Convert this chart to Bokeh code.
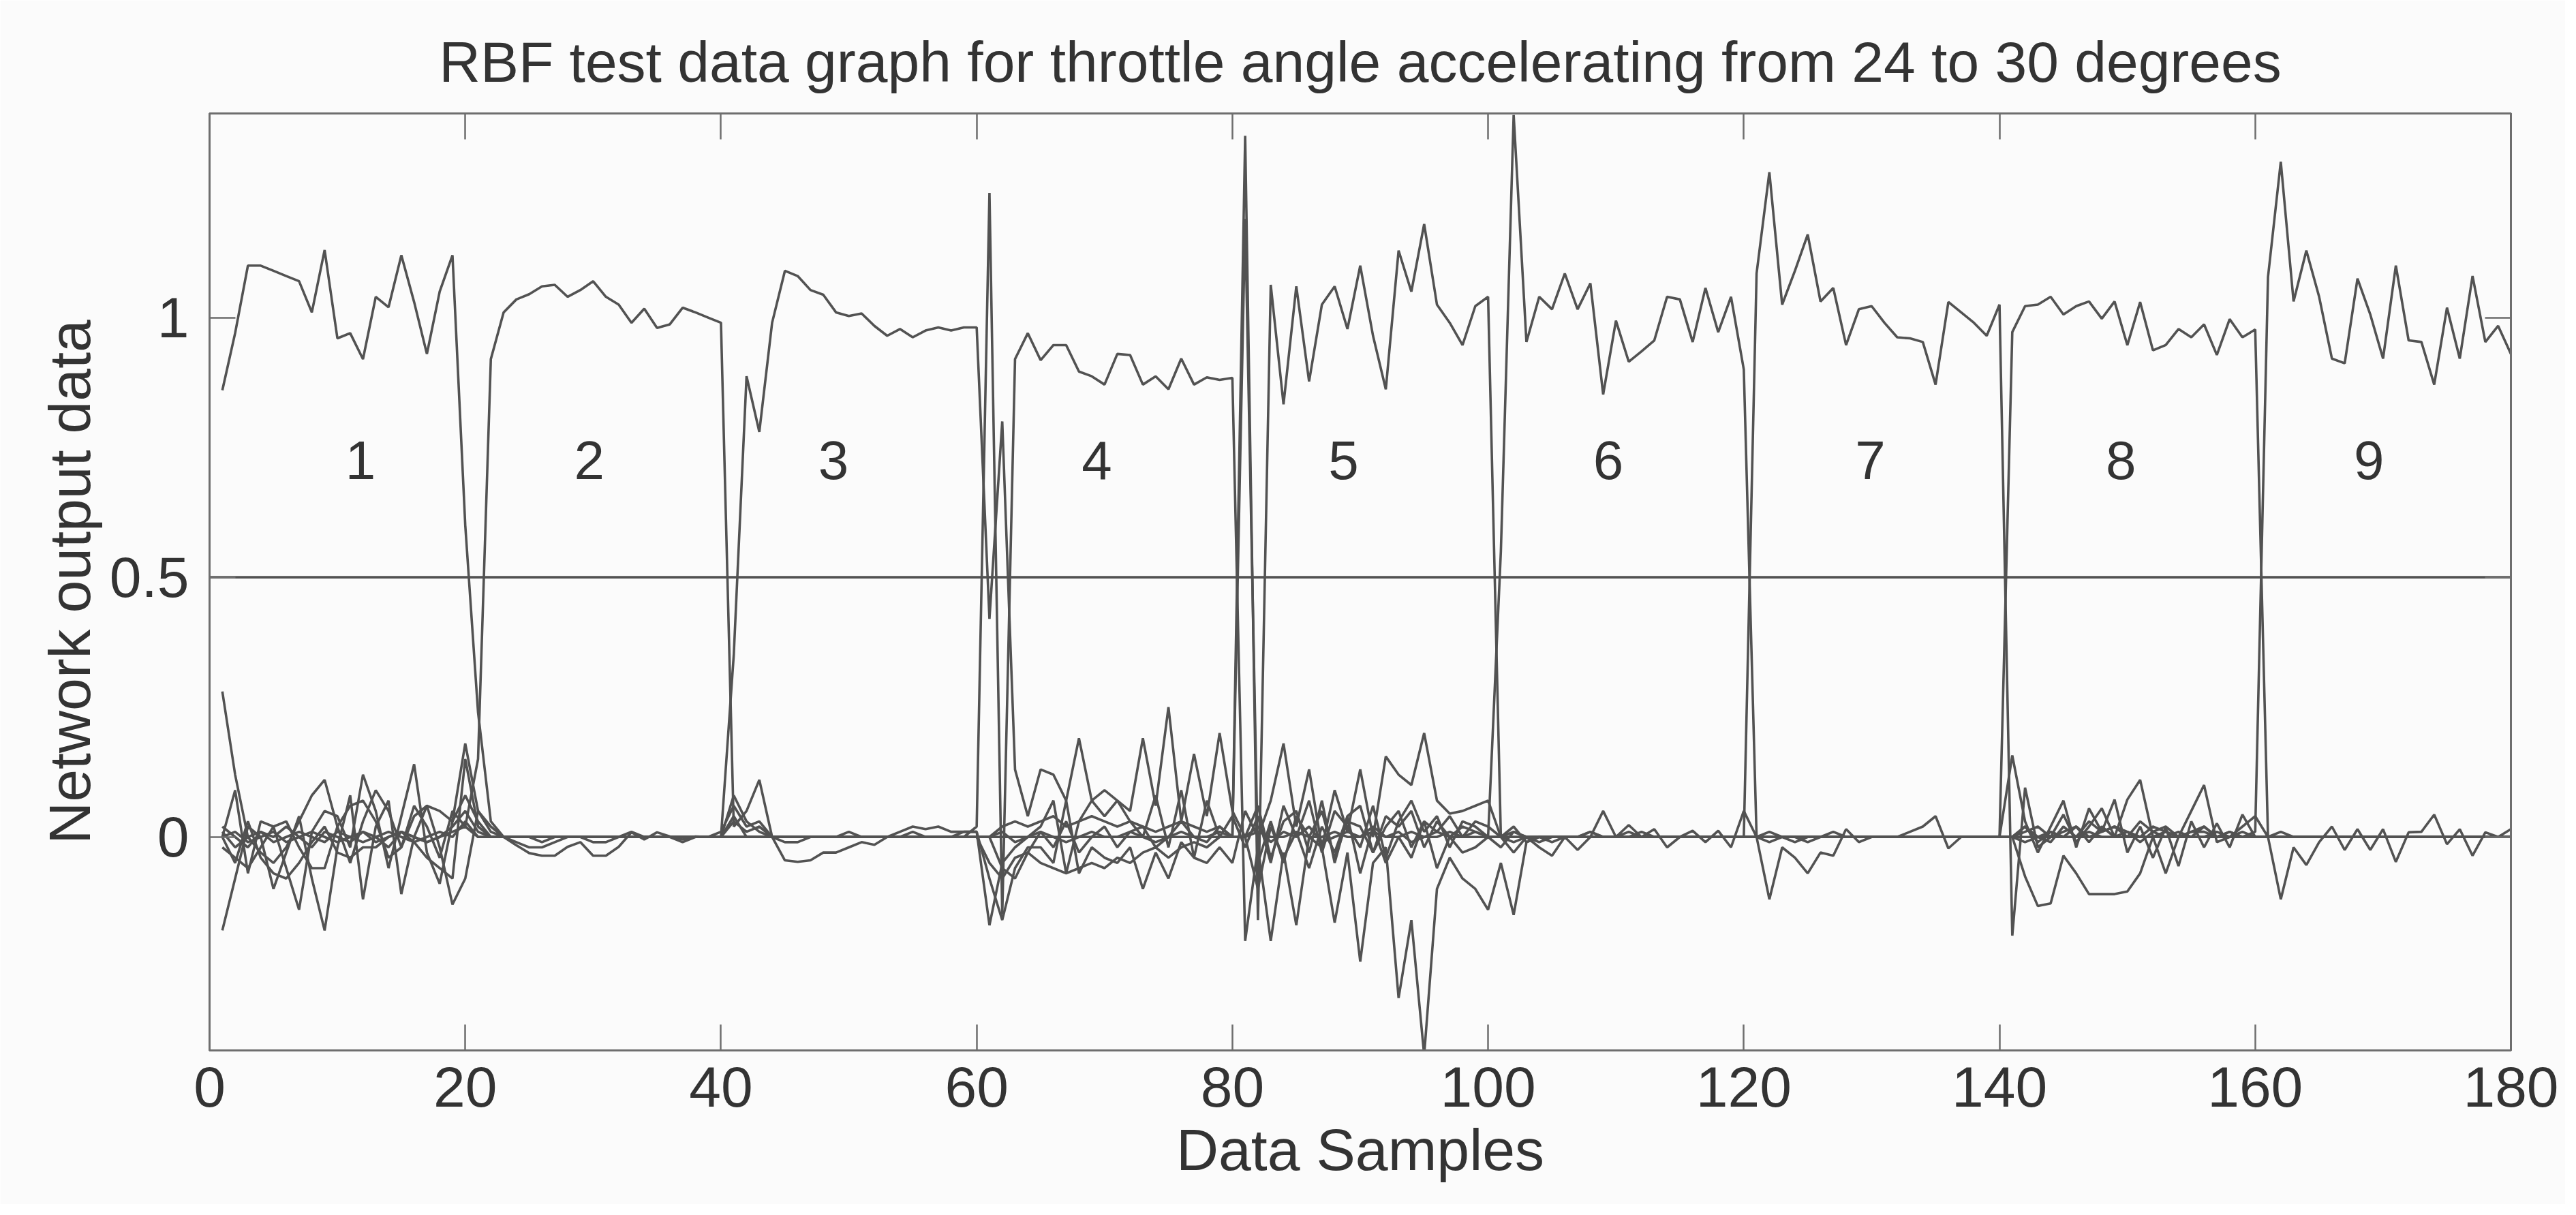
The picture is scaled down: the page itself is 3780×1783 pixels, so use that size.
from bokeh.plotting import figure
from bokeh.models import LinearAxis, FixedTicker, Range1d
from bokeh.core.properties import value
from bokeh.embed import file_html
from bokeh.resources import INLINE

title_text = "RBF test data graph for throttle angle accelerating from 24 to 30 degrees"
x_label = "Data Samples"
y_label = "Network output data"

samples = list(range(1, 181))
x_ticks = [0, 20, 40, 60, 80, 100, 120, 140, 160, 180]
y_ticks = [0, 0.5, 1]
y_tick_labels = {0: "0", 0.5: "0.5", 1: "1"}

threshold_x = [0, 180]
threshold_y = [0.5, 0.5]

class_names = ["1", "2", "3", "4", "5", "6", "7", "8", "9"]
class_x = [11.8, 29.7, 48.8, 69.4, 88.7, 109.4, 129.9, 149.5, 168.9]
class_y = [0.725, 0.725, 0.725, 0.725, 0.725, 0.725, 0.725, 0.725, 0.725]

out1 = [
 0.86, 0.97, 1.10, 1.10, 1.09, 1.08, 1.07, 1.01, 1.13, 0.96, 0.97, 0.92, 1.04, 1.02, 1.12, 1.03, 0.93, 1.05, 1.12, 0.60,
 0.24, 0.03, 0.00, -0.01, -0.02, -0.02, -0.01, 0.00, 0.00, -0.01, -0.01, 0.00, 0.01, 0.00, 0.00, 0.00, -0.01, 0.00, 0.00, 0.00,
 0.08, 0.03, 0.01, 0.00, -0.01, -0.01, 0.00, 0.00, 0.00, 0.01, 0.00, 0.00, 0.00, 0.00, 0.01, 0.00, 0.00, 0.00, 0.01, 0.01,
 -0.17, -0.05, -0.02, 0.00, 0.02, 0.07, -0.07, 0.03, 0.07, 0.04, 0.07, 0.03, 0.00, 0.08, -0.02, 0.09, -0.04, 0.07, 0.00, 0.04,
 -0.02, 0.04, -0.05, 0.06, 0.00, 0.07, -0.03, 0.05, 0.02, -0.02, 0.06, -0.04, 0.03, 0.07, 0.01, 0.04, -0.02, 0.03, 0.02, 0.00,
 -0.02, 0.01, 0.00, -0.01, 0.00, 0.00, 0.00, 0.01, 0.00, 0.00, 0.00, 0.01, 0.00, 0.00, 0.00, 0.00, 0.00, 0.00, 0.00, 0.00,
 0.00, -0.01, 0.00, 0.00, -0.01, 0.00, 0.00, 0.00, 0.00, 0.00, 0.00, 0.00, 0.00, 0.00, 0.00, 0.00, 0.00, 0.00, 0.00, 0.00,
 0.00, 0.02, -0.01, 0.01, 0.00, 0.02, -0.01, 0.02, 0.00, 0.01, -0.01, 0.01, 0.00, 0.01, 0.00, 0.02, 0.00, 0.00, 0.01, 0.00,
 0.00, 0.00, 0.00, 0.00, 0.00, 0.00, 0.00, 0.00, 0.00, 0.00, 0.00, 0.00, 0.00, 0.00, 0.00, 0.00, 0.00, 0.00, 0.00, 0.00,
]

out2 = [
 0.28, 0.12, 0.00, -0.03, -0.05, -0.02, 0.03, 0.08, 0.11, 0.02, -0.05, 0.03, 0.09, 0.05, -0.02, 0.06, 0.02, -0.04, 0.05, 0.02,
 0.15, 0.92, 1.01, 1.035, 1.045, 1.06, 1.063, 1.04, 1.053, 1.07, 1.04, 1.025, 0.99, 1.017, 0.98, 0.987, 1.019, 1.01, 1.00, 0.99,
 0.02, 0.05, 0.11, 0.00, -0.045, -0.048, -0.045, -0.03, -0.03, -0.02, -0.01, -0.015, 0.00, 0.01, 0.02, 0.015, 0.02, 0.01, 0.01, 0.01,
 -0.08, -0.16, -0.06, -0.02, -0.02, -0.05, 0.07, -0.07, -0.02, -0.04, -0.05, -0.02, -0.10, -0.03, -0.08, -0.01, -0.04, -0.05, -0.02, -0.05,
 0.05, 0.00, 0.07, 0.18, 0.02, 0.13, -0.02, 0.09, 0.01, 0.13, 0.00, 0.155, 0.12, 0.10, 0.20, 0.07, 0.045, 0.05, 0.06, 0.07,
 0.00, -0.01, 0.00, 0.00, -0.01, 0.00, 0.00, 0.01, 0.00, 0.00, 0.01, 0.00, 0.00, 0.00, 0.00, 0.00, 0.00, 0.00, 0.00, 0.00,
 0.00, 0.01, 0.00, -0.01, 0.00, 0.00, 0.01, 0.00, 0.00, 0.00, 0.00, 0.00, 0.00, 0.00, 0.00, 0.00, 0.00, 0.00, 0.00, 0.00,
 0.157, 0.03, -0.03, 0.02, 0.07, -0.02, 0.055, 0.01, 0.072, -0.03, 0.02, -0.04, 0.018, -0.056, 0.03, -0.02, 0.026, -0.02, 0.043, 0.00,
 0.00, 0.01, 0.00, 0.00, 0.00, 0.00, 0.00, 0.00, 0.00, 0.00, 0.00, 0.00, 0.00, 0.00, 0.00, 0.00, 0.00, 0.00, 0.00, 0.00,
]

out3 = [
 -0.18, -0.08, 0.02, 0.00, -0.10, -0.03, 0.04, -0.08, -0.18, -0.02, 0.08, -0.12, 0.02, 0.07, -0.11, 0.00, 0.06, -0.02, -0.13, -0.08,
 0.05, 0.02, 0.00, -0.016, -0.031, -0.036, -0.036, -0.019, -0.01, -0.036, -0.036, -0.019, 0.009, -0.005, 0.009, 0.001, -0.005, 0.001, 0.00, 0.00,
 0.35, 0.887, 0.78, 0.99, 1.09, 1.08, 1.053, 1.044, 1.01, 1.003, 1.008, 0.984, 0.965, 0.978, 0.962, 0.975, 0.981, 0.975, 0.981, 0.981,
 0.42, 0.80, 0.13, 0.04, 0.13, 0.12, 0.07, 0.19, 0.07, 0.09, 0.07, 0.05, 0.19, 0.06, 0.25, 0.03, 0.16, 0.04, 0.20, 0.05,
 0.00, 0.06, -0.04, 0.03, 0.05, -0.03, 0.07, -0.05, 0.04, 0.06, -0.03, 0.02, 0.05, -0.02, 0.03, 0.01, 0.04, 0.00, 0.03, 0.02,
 0.00, 0.01, 0.00, -0.02, -0.036, 0.00, -0.025, 0.00, 0.05, 0.00, 0.023, 0.00, 0.015, -0.02, 0.00, 0.012, -0.01, 0.012, -0.02, 0.05,
 0.00, 0.00, 0.00, 0.00, 0.00, 0.00, 0.00, 0.00, 0.00, 0.00, 0.00, 0.00, 0.00, 0.00, 0.00, 0.00, 0.00, 0.00, 0.00, 0.00,
 0.00, 0.01, 0.02, 0.00, 0.01, 0.02, 0.00, 0.01, 0.02, 0.01, 0.00, 0.02, 0.01, 0.00, 0.01, 0.01, 0.00, 0.01, 0.00, 0.00,
 0.00, 0.00, 0.00, 0.00, 0.00, 0.00, 0.00, 0.00, 0.00, 0.00, 0.00, 0.00, 0.00, 0.00, 0.00, 0.00, 0.00, 0.00, 0.00, 0.00,
]

out4 = [
 0.00, 0.09, -0.07, 0.03, 0.02, -0.06, -0.14, 0.01, 0.05, 0.04, -0.02, 0.12, 0.05, -0.06, 0.04, 0.14, -0.03, -0.09, 0.03, 0.18,
 0.05, 0.01, 0.00, 0.00, 0.00, -0.01, 0.00, 0.00, 0.00, 0.00, 0.00, 0.00, 0.00, 0.00, 0.00, 0.00, 0.00, 0.00, 0.00, 0.01,
 0.06, 0.02, 0.03, 0.00, 0.00, 0.00, 0.00, 0.00, 0.00, 0.00, 0.00, 0.00, 0.00, 0.00, 0.00, 0.00, 0.00, 0.00, 0.00, 0.02,
 1.24, -0.15, 0.92, 0.97, 0.918, 0.947, 0.947, 0.896, 0.887, 0.871, 0.93, 0.928, 0.871, 0.887, 0.862, 0.921, 0.871, 0.885, 0.88, 0.884,
 -0.20, -0.02, -0.20, -0.03, -0.17, 0.00, -0.02, -0.165, -0.03, -0.24, -0.05, -0.02, -0.31, -0.16, -0.42, -0.10, -0.04, -0.08, -0.10, -0.14,
 -0.05, -0.15, -0.01, 0.00, 0.00, 0.00, 0.00, 0.00, 0.00, 0.00, 0.00, 0.00, 0.00, 0.00, 0.00, 0.00, 0.00, 0.00, 0.00, 0.00,
 0.00, 0.00, 0.00, 0.00, 0.00, 0.00, 0.00, 0.00, 0.00, 0.00, 0.00, 0.00, 0.00, 0.00, 0.00, 0.00, 0.00, 0.00, 0.00, 0.00,
 0.00, -0.01, 0.00, 0.01, 0.00, 0.00, 0.01, 0.00, 0.00, 0.01, 0.00, 0.00, 0.01, 0.00, 0.00, 0.00, 0.01, 0.00, 0.00, 0.00,
 0.00, 0.00, 0.00, 0.00, 0.00, 0.00, 0.00, 0.00, 0.00, 0.00, 0.00, 0.00, 0.00, 0.00, 0.00, 0.00, 0.00, 0.00, 0.00, 0.00,
]

out5 = [
 -0.02, -0.04, -0.06, -0.02, 0.02, 0.03, -0.02, -0.06, -0.06, 0.02, 0.06, 0.07, 0.03, -0.04, -0.02, 0.04, 0.06, 0.05, 0.03, 0.08,
 0.03, 0.00, 0.00, 0.00, 0.00, 0.00, 0.00, 0.00, 0.00, 0.00, 0.00, 0.00, 0.00, 0.00, 0.00, 0.00, 0.00, 0.00, 0.00, 0.00,
 0.03, 0.01, 0.02, 0.00, 0.00, 0.00, 0.00, 0.00, 0.00, 0.00, 0.00, 0.00, 0.00, 0.00, 0.00, 0.00, 0.00, 0.00, 0.00, 0.00,
 -0.05, -0.08, -0.04, -0.03, -0.05, -0.06, -0.07, -0.06, -0.05, -0.06, -0.04, -0.05, -0.03, -0.02, -0.04, -0.02, -0.01, -0.02, 0.00, 0.00,
 1.35, -0.16, 1.063, 0.833, 1.06, 0.877, 1.025, 1.06, 0.978, 1.10, 0.965, 0.862, 1.129, 1.05, 1.18, 1.025, 0.99, 0.947, 1.022, 1.04,
 0.00, 0.02, -0.01, 0.00, 0.00, 0.00, 0.00, 0.00, 0.00, 0.00, 0.00, 0.00, 0.00, 0.00, 0.00, 0.00, 0.00, 0.00, 0.00, 0.00,
 0.00, 0.00, 0.00, 0.00, 0.00, 0.00, 0.00, 0.00, 0.00, 0.00, 0.00, 0.00, 0.00, 0.00, 0.00, 0.00, 0.00, 0.00, 0.00, 0.00,
 0.00, 0.02, 0.00, -0.01, 0.02, 0.00, 0.03, 0.01, 0.02, 0.00, 0.03, 0.01, 0.02, 0.00, 0.01, 0.02, 0.00, 0.01, 0.00, 0.00,
 0.00, 0.00, 0.00, 0.00, 0.00, 0.00, 0.00, 0.00, 0.00, 0.00, 0.00, 0.00, 0.00, 0.00, 0.00, 0.00, 0.00, 0.00, 0.00, 0.00,
]

out6 = [
 0.00, -0.05, 0.03, -0.04, -0.07, -0.08, -0.05, -0.01, 0.02, -0.03, -0.04, -0.02, -0.02, 0.00, 0.01, -0.01, -0.04, -0.06, -0.08, 0.15,
 0.02, 0.00, 0.00, 0.00, 0.00, 0.00, 0.00, 0.00, 0.00, 0.00, 0.00, 0.00, 0.00, 0.00, 0.00, 0.00, 0.00, 0.00, 0.00, 0.00,
 0.04, 0.00, 0.00, 0.00, 0.00, 0.00, 0.00, 0.00, 0.00, 0.00, 0.00, 0.00, 0.00, 0.00, 0.00, 0.00, 0.00, 0.00, 0.00, 0.00,
 0.00, 0.02, 0.03, 0.02, 0.03, 0.04, 0.02, 0.03, 0.04, 0.03, 0.02, 0.03, 0.02, 0.01, 0.02, 0.03, 0.02, 0.01, 0.02, 0.00,
 1.19, -0.05, 0.03, -0.05, 0.04, 0.00, 0.05, -0.04, 0.03, 0.02, -0.03, 0.04, 0.02, 0.05, -0.02, 0.03, 0.00, 0.02, 0.01, 0.00,
 0.55, 1.39, 0.953, 1.04, 1.016, 1.085, 1.016, 1.066, 0.852, 0.994, 0.915, 0.935, 0.956, 1.04, 1.035, 0.953, 1.057, 0.972, 1.04, 0.90,
 0.00, -0.12, -0.02, -0.04, -0.07, -0.03, -0.036, 0.015, -0.01, 0.00, 0.00, 0.00, 0.00, 0.00, 0.00, 0.00, 0.00, 0.00, 0.00, 0.00,
 0.00, 0.00, 0.00, 0.00, 0.00, 0.00, 0.00, 0.00, 0.00, 0.00, 0.00, 0.00, 0.00, 0.00, 0.00, 0.00, 0.00, 0.00, 0.00, 0.00,
 0.00, 0.00, 0.00, 0.00, 0.00, 0.00, 0.00, 0.00, 0.00, 0.00, 0.00, 0.00, 0.00, 0.00, 0.00, 0.00, 0.00, 0.00, 0.00, 0.00,
]

out7 = [
 0.02, 0.00, -0.02, 0.01, 0.00, 0.02, 0.00, -0.02, 0.01, 0.00, -0.01, 0.01, 0.00, -0.02, 0.01, 0.00, -0.01, 0.00, 0.02, 0.05,
 0.01, 0.00, 0.00, 0.00, 0.00, 0.00, 0.00, 0.00, 0.00, 0.00, 0.00, 0.00, 0.00, 0.00, 0.00, 0.00, 0.00, 0.00, 0.00, 0.00,
 0.00, 0.00, 0.00, 0.00, 0.00, 0.00, 0.00, 0.00, 0.00, 0.00, 0.00, 0.00, 0.00, 0.00, 0.00, 0.00, 0.00, 0.00, 0.00, 0.00,
 0.00, -0.06, -0.08, -0.03, 0.01, -0.02, 0.03, -0.03, 0.00, 0.02, -0.02, 0.01, 0.02, -0.02, 0.00, 0.03, 0.00, -0.01, 0.02, 0.00,
 0.00, -0.10, 0.02, -0.04, 0.01, -0.06, 0.02, -0.03, 0.04, -0.07, 0.02, -0.05, 0.00, -0.04, 0.03, -0.06, 0.00, -0.03, -0.02, 0.00,
 0.00, -0.03, 0.00, 0.00, 0.00, 0.00, 0.00, 0.00, 0.00, 0.00, 0.00, 0.00, 0.00, 0.00, 0.00, 0.00, 0.00, 0.00, 0.00, 0.00,
 1.085, 1.28, 1.025, 1.09, 1.16, 1.031, 1.057, 0.947, 1.016, 1.022, 0.99, 0.962, 0.96, 0.953, 0.871, 1.03, 1.01, 0.99, 0.965, 1.025,
 -0.19, 0.095, -0.02, 0.00, 0.043, -0.01, 0.02, 0.055, 0.00, 0.072, 0.11, 0.00, -0.07, 0.00, 0.05, 0.10, -0.01, 0.00, 0.02, 0.04,
 0.00, 0.00, 0.00, 0.00, 0.00, 0.00, 0.00, 0.00, 0.00, 0.00, 0.00, 0.00, 0.00, 0.00, 0.00, 0.00, 0.00, 0.00, 0.00, 0.00,
]

out8 = [
 0.01, -0.02, 0.00, 0.01, -0.01, 0.00, 0.01, 0.00, -0.01, 0.01, 0.00, -0.01, 0.00, 0.01, 0.00, -0.01, 0.00, 0.01, 0.00, 0.03,
 0.00, 0.00, 0.00, 0.00, 0.00, 0.00, 0.00, 0.00, 0.00, 0.00, 0.00, 0.00, 0.00, 0.00, 0.00, 0.00, 0.00, 0.00, 0.00, 0.00,
 0.00, 0.00, 0.00, 0.00, 0.00, 0.00, 0.00, 0.00, 0.00, 0.00, 0.00, 0.00, 0.00, 0.00, 0.00, 0.00, 0.00, 0.00, 0.00, 0.00,
 0.00, 0.01, -0.01, 0.00, 0.01, 0.00, -0.01, 0.00, 0.01, 0.00, 0.00, 0.01, 0.00, -0.01, 0.00, 0.01, 0.00, 0.00, 0.01, 0.00,
 0.00, 0.02, -0.01, 0.01, 0.00, 0.02, -0.01, 0.00, 0.01, 0.00, 0.02, 0.00, 0.01, -0.01, 0.00, 0.01, 0.00, 0.00, 0.01, 0.00,
 0.00, 0.00, 0.00, 0.00, 0.00, 0.00, 0.00, 0.00, 0.00, 0.00, 0.00, 0.00, 0.00, 0.00, 0.00, 0.00, 0.00, 0.00, 0.00, 0.00,
 0.00, 0.00, 0.00, 0.00, 0.00, 0.00, 0.00, 0.00, 0.00, 0.00, 0.00, 0.00, 0.01, 0.02, 0.04, -0.022, 0.00, 0.00, 0.00, 0.00,
 0.972, 1.022, 1.025, 1.04, 1.006, 1.022, 1.031, 0.998, 1.031, 0.947, 1.03, 0.937, 0.947, 0.978, 0.962, 0.987, 0.928, 0.997, 0.962, 0.977,
 0.00, -0.12, -0.02, -0.054, -0.01, 0.02, -0.025, 0.015, -0.025, 0.015, -0.048, 0.009, 0.01, 0.043, -0.014, 0.015, -0.036, 0.009, 0.00, 0.015,
]

out9 = [
 0.00, 0.01, -0.01, 0.00, 0.01, -0.01, 0.00, 0.01, 0.00, -0.01, 0.00, 0.01, -0.01, 0.00, 0.01, 0.00, -0.01, 0.00, 0.01, 0.02,
 0.00, 0.00, 0.00, 0.00, 0.00, 0.00, 0.00, 0.00, 0.00, 0.00, 0.00, 0.00, 0.00, 0.00, 0.00, 0.00, 0.00, 0.00, 0.00, 0.00,
 0.00, 0.00, 0.00, 0.00, 0.00, 0.00, 0.00, 0.00, 0.00, 0.00, 0.00, 0.00, 0.00, 0.00, 0.00, 0.00, 0.00, 0.00, 0.00, 0.00,
 0.00, 0.00, 0.00, 0.00, 0.00, 0.00, 0.00, 0.00, 0.00, 0.00, 0.00, 0.00, 0.00, 0.00, 0.00, 0.00, 0.00, 0.00, 0.00, 0.00,
 0.00, 0.01, 0.00, 0.00, 0.01, 0.00, 0.00, 0.01, 0.00, 0.00, 0.01, 0.00, 0.00, 0.01, 0.00, 0.00, 0.01, 0.00, 0.00, 0.00,
 0.00, 0.00, 0.00, 0.00, 0.00, 0.00, 0.00, 0.00, 0.00, 0.00, 0.00, 0.00, 0.00, 0.00, 0.00, 0.00, 0.00, 0.00, 0.00, 0.00,
 0.00, 0.00, 0.00, 0.00, 0.00, 0.00, 0.00, 0.00, 0.00, 0.00, 0.00, 0.00, 0.00, 0.00, 0.00, 0.00, 0.00, 0.00, 0.00, 0.00,
 0.00, -0.076, -0.133, -0.128, -0.036, -0.07, -0.11, -0.11, -0.11, -0.105, -0.07, 0.00, 0.01, 0.00, 0.00, 0.00, 0.00, 0.00, 0.00, 0.01,
 1.078, 1.30, 1.031, 1.129, 1.04, 0.921, 0.912, 1.075, 1.006, 0.921, 1.10, 0.956, 0.953, 0.871, 1.019, 0.921, 1.08, 0.953, 0.984, 0.93,
]

outputs = [out1, out2, out3, out4, out5, out6, out7, out8, out9]

FONT = "Liberation Sans"
TEXT = "#333333"
LINE = "#525252"
AXIS = "#6e6e6e"
BG = "#fbfbfb"

p = figure(width=3764, height=1767, output_backend="svg", toolbar_location=None,
           x_range=Range1d(0, 180), y_range=Range1d(-0.411, 1.393),
           min_border_left=307, min_border_right=80, min_border_top=166, min_border_bottom=226,
           background_fill_color=BG, border_fill_color=BG)

p.title.text = title_text
p.title.text_font = FONT
p.title.text_font_size = "84px"
p.title.text_font_style = "normal"
p.title.text_color = TEXT
p.title.align = "center"
p.title.standoff = 58

p.grid.visible = False
p.outline_line_color = AXIS
p.outline_line_width = 3

p.line(threshold_x, threshold_y, line_color=LINE, line_width=3.6)
for ys in outputs:
    p.line(samples, ys, line_color=LINE, line_width=3.6)

p.text(x=class_x, y=class_y, text=class_names, text_font=value(FONT), text_font_size="80px",
       text_align="center", text_baseline="middle", text_color=TEXT)

def style_axis(ax):
    ax.axis_line_color = AXIS
    ax.axis_line_width = 3
    ax.major_tick_line_color = AXIS
    ax.major_tick_line_width = 2.5
    ax.major_tick_in = 38
    ax.major_tick_out = 0
    ax.minor_tick_line_color = None
    ax.major_label_text_font = FONT
    ax.major_label_text_font_size = "84px"
    ax.major_label_text_color = TEXT
    ax.axis_label_text_font = FONT
    ax.axis_label_text_font_size = "86px"
    ax.axis_label_text_font_style = "normal"
    ax.axis_label_text_color = TEXT

xa = p.xaxis[0]
xa.ticker = FixedTicker(ticks=x_ticks)
xa.axis_label = x_label
style_axis(xa)
xa.major_label_standoff = 24
xa.axis_label_standoff = 12

ya = p.yaxis[0]
ya.ticker = FixedTicker(ticks=y_ticks)
ya.major_label_overrides = y_tick_labels
ya.axis_label = y_label
style_axis(ya)
ya.axis_label_text_font_size = "86px"
ya.major_label_standoff = 30
ya.axis_label_standoff = 8

top_axis = LinearAxis(ticker=FixedTicker(ticks=x_ticks))
style_axis(top_axis)
top_axis.major_label_overrides = {t: "" for t in x_ticks}
top_axis.major_label_standoff = 0
p.add_layout(top_axis, "above")

right_axis = LinearAxis(ticker=FixedTicker(ticks=y_ticks))
style_axis(right_axis)
right_axis.major_label_overrides = {t: "" for t in y_ticks}
right_axis.major_label_standoff = 0
p.add_layout(right_axis, "right")

open("out.html", "w").write(file_html(p, INLINE))
